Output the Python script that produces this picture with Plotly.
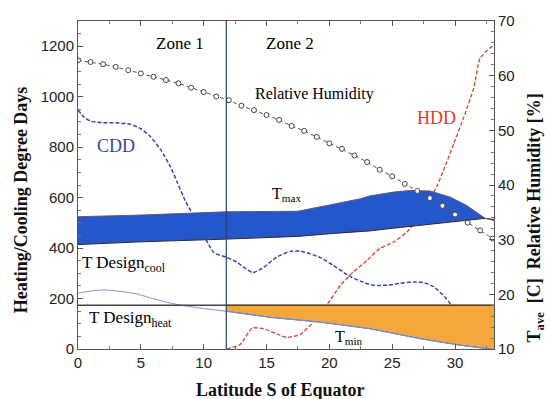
import plotly.graph_objects as go

# ---------------- data ----------------
zone_boundary = 11.8
t_design_heat = 18.0

# Relative humidity (%), one marker per degree latitude
rh_lat = list(range(0, 34))
rh_val = [62.8, 62.5, 62.1, 61.6, 61.0, 60.4, 59.8, 59.2, 58.6, 57.8, 57.0, 56.2,
          55.5, 54.5, 53.7, 52.8, 51.9, 50.8, 49.9, 48.8, 47.6, 46.6, 45.4, 44.2,
          42.8, 41.6, 40.2, 38.9, 37.6, 36.2, 34.6, 33.1, 31.7, 30.2]

# Cooling degree days
cdd_lat = [0, 0.5, 1, 2, 3, 4.2, 5, 5.8, 6.6, 7.35, 7.9, 8.55, 9.5, 10.3, 10.85, 11.8,
           12.65, 13.9, 14.8, 15.8, 16.9, 17.7, 18.5, 19.3, 20.3, 21.4, 22.45, 23.5,
           24.6, 25.6, 26.7, 27.5, 28.3, 29.2, 30.0, 30.7, 31.5, 32.3, 32.9]
cdd_val = [947, 918, 903, 897, 897, 890, 873, 840, 788, 723, 660, 586, 501, 423, 380, 364,
           344, 303, 325, 364, 387, 388, 377, 362, 332, 295, 269, 253,
           253, 260, 266, 263, 247, 205, 155, 95, 55, 15, 0]

# Heating degree days
hdd_lat = [11.85, 12.9, 13.85, 14.8, 15.8, 16.6, 17.7, 18.75, 19.8, 20.9, 21.9, 23.0,
           24.0, 25.1, 26.2, 27.0, 27.8, 28.55, 29.1, 29.9, 30.7, 31.5, 32.0, 33.05]
hdd_val = [0, 18, 83, 80, 60, 46, 58, 108, 175, 253, 305, 351,
           398, 423, 465, 514, 579, 645, 710, 814, 919, 1036, 1153, 1205]

# T max (upper edge of blue band) and T design cool (lower edge), deg C
band_lat = [0, 5, 11.8, 17.5, 20.1, 22.5, 23.2, 25.1, 26.4, 28.0, 29.6, 30.9, 32.4, 33.1]
tmax_val = [34.2, 34.5, 35.1, 35.2, 36.4, 37.5, 38.0, 38.7, 39.0, 38.9, 37.8, 36.3, 33.9, 33.5]
tcool_val = [29.1, 29.6, 30.1, 30.6, 31.1, 31.5, 31.6, 32.1, 32.4, 32.8, 33.2, 33.5, 33.9, 33.7]

# T min, deg C
tmin_lat = [0, 1, 2.05, 3.5, 4.7, 6, 7.35, 8.2, 10, 11.8, 15.3, 19.3, 23.25, 27.2, 30.4, 32.8, 33.1]
tmin_val = [20.2, 20.6, 20.8, 20.5, 20.05, 19.2, 18.4, 18.0, 17.4, 16.9, 15.8, 14.9, 13.7, 11.9, 10.7, 10.0, 9.9]

x_range = [0, 33.1]

# ---------------- figure ----------------
fig = go.Figure()

BLUE_FILL = "rgb(36,86,204)"
ORANGE_FILL = "rgb(246,167,58)"

# blue band: T design cool -> T max
fig.add_trace(go.Scatter(x=band_lat, y=tcool_val, yaxis="y2", mode="lines",
                         line=dict(color="#1f2a55", width=1), showlegend=False, hoverinfo="skip"))
fig.add_trace(go.Scatter(x=band_lat, y=tmax_val, yaxis="y2", mode="lines", fill="tonexty",
                         fillcolor=BLUE_FILL, line=dict(color="#7a5a3a", width=1),
                         showlegend=False, hoverinfo="skip"))

# orange region (zone 2): T design heat -> T min
z2 = [i for i, v in enumerate(tmin_lat) if v >= zone_boundary]
z2_lat = [tmin_lat[i] for i in z2]
z2_min = [tmin_val[i] for i in z2]
fig.add_trace(go.Scatter(x=z2_lat, y=[t_design_heat] * len(z2_lat), yaxis="y2", mode="lines",
                         line=dict(color="#333", width=1), showlegend=False, hoverinfo="skip"))
fig.add_trace(go.Scatter(x=z2_lat, y=z2_min, yaxis="y2", mode="lines", fill="tonexty",
                         fillcolor=ORANGE_FILL, line=dict(color="#555a80", width=1),
                         showlegend=False, hoverinfo="skip"))

# T min thin line over full range
fig.add_trace(go.Scatter(x=tmin_lat, y=tmin_val, yaxis="y2", mode="lines",
                         line=dict(color="#7f8fd6", width=1, shape="spline", smoothing=0.6),
                         showlegend=False))

# T design heat horizontal line (full width)
fig.add_trace(go.Scatter(x=x_range, y=[t_design_heat, t_design_heat], yaxis="y2", mode="lines",
                         line=dict(color="#444", width=1.3), showlegend=False))

# CDD
fig.add_trace(go.Scatter(x=cdd_lat, y=cdd_val, mode="lines", name="CDD",
                         line=dict(color="#3a44a8", width=1.5, dash="4px,2px", shape="spline", smoothing=0.6),
                         showlegend=False))
# HDD
fig.add_trace(go.Scatter(x=hdd_lat, y=hdd_val, mode="lines", name="HDD",
                         line=dict(color="#d8402a", width=1.3, dash="4px,2px", shape="spline", smoothing=0.5),
                         showlegend=False))
# Relative humidity
fig.add_trace(go.Scatter(x=rh_lat, y=rh_val, yaxis="y2", mode="lines+markers", name="Relative Humidity",
                         line=dict(color="#555", width=1, dash="4px,3px"),
                         marker=dict(symbol="circle", size=5, color="white",
                                     line=dict(color="#444", width=1)),
                         showlegend=False))

SERIF = "Liberation Serif"
SANS = "Liberation Sans"

def ann(text, x, y, size=17, color="black", xanchor="center"):
    return dict(text=text, x=x, y=y, xref="x", yref="paper", showarrow=False,
                xanchor=xanchor, yanchor="middle",
                font=dict(family=SERIF, size=size, color=color))

annotations = [
    ann("Zone 1", 8.15, 0.931),
    ann("Zone 2", 16.9, 0.931),
    ann("Relative Humidity", 18.8, 0.778, size=16),
    ann("CDD", 3.06, 0.62, size=18, color="#3a44a8"),
    ann("HDD", 28.5, 0.703, size=18, color="#d8402a"),
    ann("T<sub>max</sub>", 15.3, 0.47, size=16, xanchor="left"),
    ann("T Design<sub>cool</sub>", 0.15, 0.26, size=17, xanchor="left"),
    ann("T Design<sub>heat</sub>", 0.7, 0.09, size=17, xanchor="left"),
    ann("T<sub>min</sub>", 20.3, 0.035, size=16, xanchor="left"),
    dict(text="<b>Heating/Cooling Degree Days</b>", x=-0.135, y=0.456, xref="paper", yref="paper",
         xanchor="center", yanchor="middle",
         textangle=-90, showarrow=False, font=dict(family=SERIF, size=18, color="#111")),
    dict(text="<b>T<sub>ave</sub>  [C]  Relative Humidity [%]</b>", x=1.1, y=0.40, xref="paper",
         yref="paper", xanchor="center", yanchor="middle",
         textangle=-90, showarrow=False, font=dict(family=SERIF, size=18, color="#111")),
    dict(text="<b>Latitude S of Equator</b>", x=0.486, y=-0.125, xref="paper", yref="paper",
         xanchor="center", yanchor="middle",
         showarrow=False, font=dict(family=SERIF, size=18, color="#111")),
]

fig.update_layout(
    width=550, height=399,
    margin=dict(l=78, r=56, t=16, b=50),
    paper_bgcolor="white", plot_bgcolor="white",
    showlegend=False,
    annotations=annotations,
    shapes=[dict(type="line", x0=zone_boundary, x1=zone_boundary, y0=0, y1=1,
                 xref="x", yref="paper", line=dict(color="#2c3a66", width=1.2))],
    xaxis=dict(range=x_range, dtick=5, tick0=0, ticks="inside", ticklen=5, tickcolor="#555",
               showline=True, linecolor="#555", linewidth=1, mirror="ticks", showgrid=False,
               zeroline=False, tickfont=dict(family=SANS, size=15, color="#222"),
               minor=dict(dtick=2.5, ticks="inside", ticklen=3, tickcolor="#777")),
    yaxis=dict(range=[0, 1300], dtick=200, tick0=0, ticks="inside", ticklen=5, tickcolor="#555",
               showline=True, linecolor="#555", linewidth=1, showgrid=False, zeroline=False,
               tickfont=dict(family=SANS, size=15, color="#222"),
               minor=dict(dtick=50, ticks="inside", ticklen=3, tickcolor="#777")),
    yaxis2=dict(range=[10, 70], dtick=10, tick0=10, overlaying="y", side="right", ticks="inside",
                ticklen=5, tickcolor="#555", showline=True, linecolor="#555", linewidth=1,
                showgrid=False, zeroline=False, tickfont=dict(family=SANS, size=15, color="#222"),
                minor=dict(dtick=2, ticks="inside", ticklen=3, tickcolor="#777")),
)

fig.write_html("out.html")
